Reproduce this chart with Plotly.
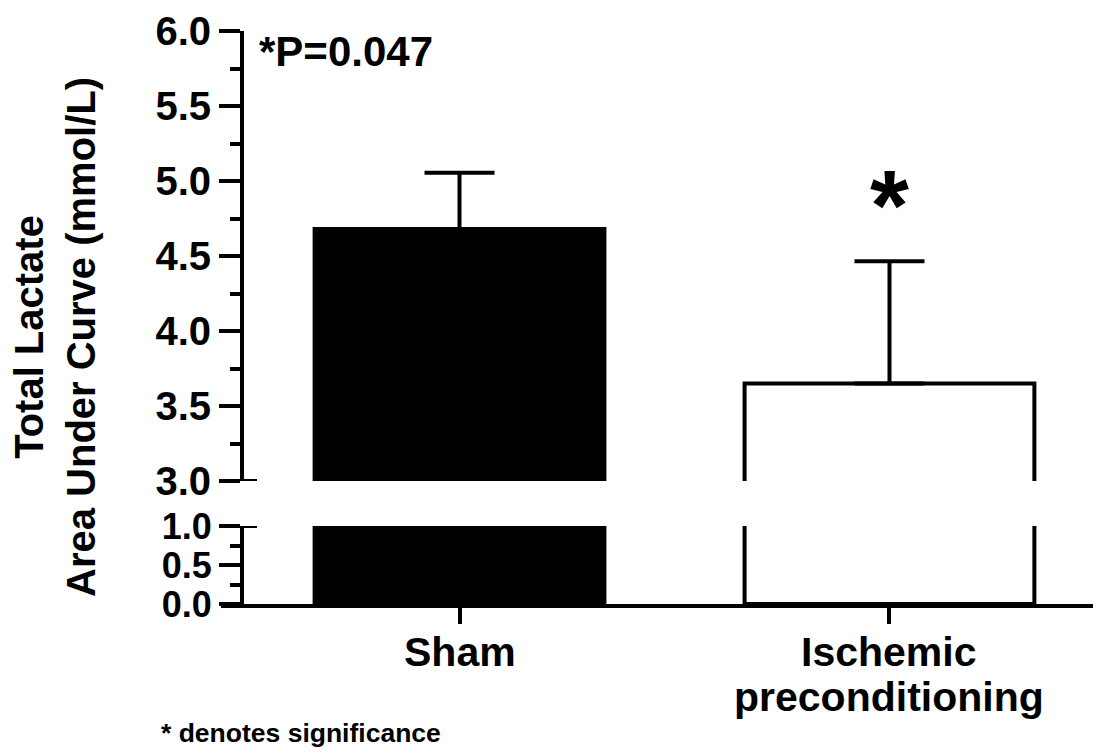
import plotly.graph_objects as go

# ---------------- data ----------------
categories = ["Sham", "Ischemic preconditioning"]
label_lines = [["Sham"], ["Ischemic", "preconditioning"]]
means = [4.68, 3.65]
sem = [0.375, 0.815]
bar_colors = ["black", "white"]
upper_ticks = [3.0, 3.5, 4.0, 4.5, 5.0, 5.5, 6.0]
lower_ticks = [0.0, 0.5, 1.0]
upper_range = [3.0, 6.0]
lower_range = [0.0, 1.0]
p_text = "*P=0.047"
sig_marker = "*"
sig_marker_y = 4.84
footnote = "* denotes significance"
y_title = "Total Lactate<br>Area Under Curve (mmol/L)"

# ---------------- layout geometry (pixels) ----------------
W, H = 1096, 753
L, R, T, B = 221, 3, 31, 149
pw = W - L - R
ph = H - T - B


def px(xp):
    return (xp - L) / pw


def py(yp):
    return (H - B - yp) / ph


FONT = "Liberation Sans, Arial, Helvetica, sans-serif"
LW = 4

fig = go.Figure()

# lower segment bars
fig.add_trace(go.Bar(
    x=categories, y=means, width=0.674,
    marker=dict(color=bar_colors, line=dict(color="black", width=LW)),
    xaxis="x", yaxis="y", hoverinfo="skip",
))
# upper segment bars with SEM
fig.add_trace(go.Bar(
    x=categories, y=means, width=0.674,
    marker=dict(color=bar_colors, line=dict(color="black", width=LW)),
    error_y=dict(type="data", array=sem, arrayminus=[0] * len(sem), symmetric=False,
                 color="black", thickness=LW, width=35),
    xaxis="x", yaxis="y2", hoverinfo="skip",
))


def axis_common(fsize):
    return dict(
        showline=True, linewidth=LW, linecolor="black",
        ticks="outside", ticklen=21, tickwidth=LW, tickcolor="black",
        showgrid=False, zeroline=False,
        tickfont=dict(family=FONT, size=fsize, color="black", weight="bold"),
        anchor="free", position=px(242),
        minor=dict(dtick=0.25, ticks="outside", ticklen=10, tickwidth=LW,
                   tickcolor="black", showgrid=False),
    )


fig.update_layout(
    width=W, height=H, autosize=False,
    margin=dict(l=L, r=R, t=T, b=B),
    paper_bgcolor="white", plot_bgcolor="white",
    showlegend=False,
    xaxis=dict(
        type="category", range=[-0.5547, 1.4733],
        showline=True, linewidth=LW, linecolor="black",
        ticks="outside", ticklen=16, tickwidth=LW, tickcolor="black",
        showticklabels=False, showgrid=False, zeroline=False,
        anchor="y",
    ),
    yaxis=dict(domain=[0, py(526)], range=lower_range, tickvals=lower_ticks,
               ticktext=[f"{v:.1f}" for v in lower_ticks], **axis_common(36)),
    yaxis2=dict(domain=[py(481), 1], range=upper_range, tickvals=upper_ticks,
                ticktext=[f"{v:.1f}" for v in upper_ticks], **axis_common(40)),
)

# axis break marks
for yref, yv in (("y2", upper_range[0]), ("y", lower_range[1])):
    fig.add_shape(type="line", xref="paper", yref=yref,
                  x0=px(242), x1=px(257), y0=yv, y1=yv,
                  line=dict(color="black", width=LW))


def bold(s):
    return dict(family=FONT, size=s, color="black", weight="bold")


# y-axis title
fig.add_annotation(text=y_title, textangle=-90, xref="paper", yref="paper",
                   x=px(55), y=py(337), xanchor="center", yanchor="middle",
                   showarrow=False, font=bold(40))

# p value
fig.add_annotation(text=p_text, xref="paper", yref="paper",
                   x=px(257), y=py(52), xanchor="left", yanchor="middle",
                   showarrow=False, font=bold(42))

# significance asterisk
fig.add_annotation(text=sig_marker, xref="x", yref="y2",
                   x=categories[1], y=sig_marker_y, xanchor="center", yanchor="middle",
                   showarrow=False, font=bold(100))

# category labels
line_y = [652, 697]
for cat, lines in zip(categories, label_lines):
    for i, line in enumerate(lines):
        fig.add_annotation(text=line, xref="x", yref="paper",
                           x=cat, y=py(line_y[i]), xanchor="center", yanchor="middle",
                           showarrow=False, font=bold(41))

# footnote
fig.add_annotation(text=footnote, xref="paper", yref="paper",
                   x=px(159), y=py(733), xanchor="left", yanchor="middle",
                   showarrow=False, font=bold(26.5))

fig.write_html("out.html",
               config=dict(displayModeBar=False),
               post_script="document.body.style.margin='0px';"
                           "document.body.style.overflow='hidden';")
